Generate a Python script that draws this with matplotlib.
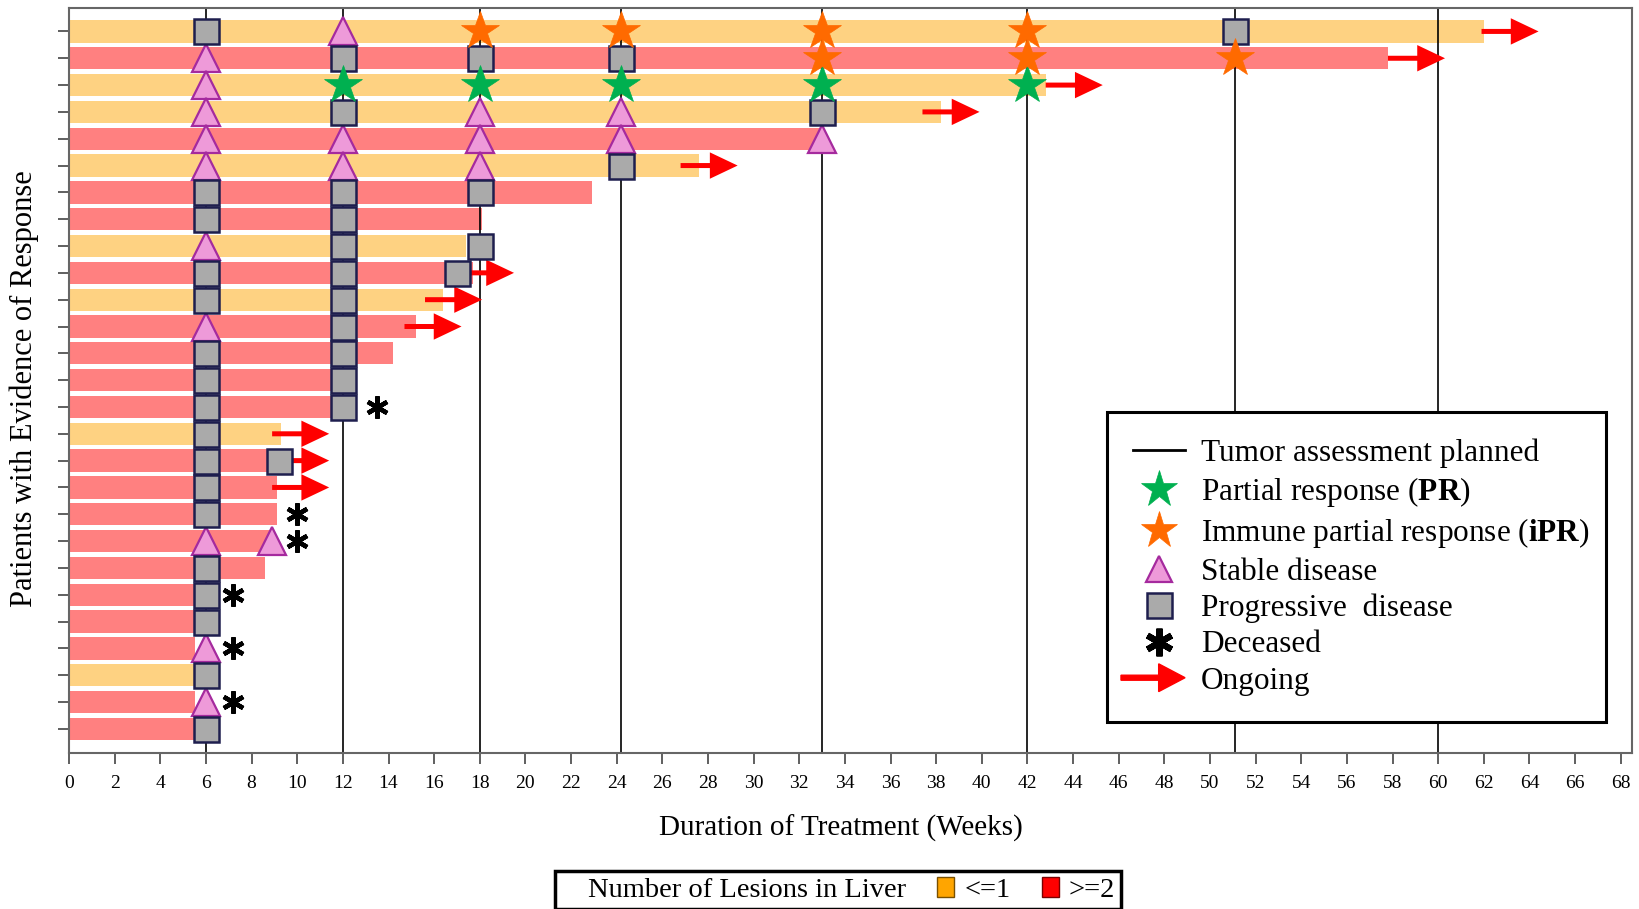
import matplotlib
matplotlib.use("Agg")
import matplotlib.pyplot as plt
from matplotlib import patches as mpatches
from matplotlib.lines import Line2D
from matplotlib.legend_handler import HandlerPatch

plt.rcParams['font.family'] = ['Liberation Serif', 'DejaVu Serif']
plt.rcParams['mathtext.fontset'] = 'custom'
plt.rcParams['mathtext.rm'] = 'Liberation Serif'
plt.rcParams['mathtext.bf'] = 'Liberation Serif:bold'

# one row per patient, listed top to bottom
weeks_on_treatment = [62.0, 57.8, 42.8, 38.2, 33.0, 27.6, 22.9, 18.1, 17.4,
                      17.7, 16.4, 15.2, 14.2, 11.5, 11.5, 9.3, 9.1, 9.1,
                      9.1, 8.9, 8.6, 5.5, 5.5, 5.5, 5.5, 5.5, 5.5]
liver_lesions = ['<=1', '>=2', '<=1', '<=1', '>=2', '<=1', '>=2', '>=2', '<=1',
                 '>=2', '<=1', '>=2', '>=2', '>=2', '>=2', '<=1', '>=2', '>=2',
                 '>=2', '>=2', '>=2', '>=2', '>=2', '>=2', '<=1', '>=2', '>=2']

# planned tumour assessments (weeks)
assessment_weeks = [6, 12, 18, 24.2, 33, 42, 51.1, 60]

# (patient row, week) of each response assessment
partial_response = [(3, 12), (3, 18), (3, 24.2), (3, 33), (3, 42)]
immune_partial_response = [(1, 18), (1, 24.2), (1, 33), (1, 42),
                           (2, 33), (2, 42), (2, 51.1)]
stable_disease = [(1, 12), (2, 6), (3, 6), (4, 6), (4, 18), (4, 24.2),
                  (5, 6), (5, 12), (5, 18), (5, 24.2), (5, 33),
                  (6, 6), (6, 12), (6, 18), (9, 6), (12, 6),
                  (20, 6), (20, 8.9), (24, 6), (26, 6)]
progressive_disease = [(1, 6), (1, 51.1), (2, 12), (2, 18), (2, 24.2),
                       (4, 12), (4, 33), (6, 24.2), (7, 6), (7, 12), (7, 18),
                       (8, 6), (8, 12), (9, 12), (9, 18), (10, 6), (10, 12),
                       (10, 17.0), (11, 6), (11, 12), (12, 12), (13, 6),
                       (13, 12), (14, 6), (14, 12), (15, 6), (15, 12),
                       (16, 6), (17, 6), (17, 9.2), (18, 6), (19, 6),
                       (21, 6), (22, 6), (23, 6), (25, 6), (27, 6)]
deceased = [(15, 13.5), (19, 10.0), (20, 10.0), (22, 7.2), (24, 7.2), (26, 7.2)]
# (patient row, week where the arrow starts)
ongoing = [(1, 61.9), (2, 57.8), (3, 42.8), (4, 37.4), (6, 26.8), (10, 17.0),
           (11, 15.6), (12, 14.7), (16, 8.9), (17, 8.9), (18, 8.9)]
ongoing_arrow_len = 2.5

bar_colors = {'<=1': '#FED282', '>=2': '#FF8080'}
swatch_colors = {'<=1': '#FFA500', '>=2': '#FF0000'}

sd_style = dict(ls='none', marker='^', ms=20, mfc='#EE9AD9', mec='#A52A9E', mew=1.6)
pd_style = dict(ls='none', marker='s', ms=18, mfc='#AAAAAA', mec='#1E1E4E', mew=1.8)
pr_style = dict(ls='none', marker='*', ms=29, mfc='#00B050', mec='#00B050', mew=0.5)
ipr_style = dict(ls='none', marker='*', ms=29, mfc='#FF6A00', mec='#FF6A00', mew=0.5)
dead_style = dict(ls='none', marker=(6, 2, 0), ms=16, mec='black', mew=3.2)


def unzip(marks):
    rows = [r for r, _ in marks]
    weeks = [w for _, w in marks]
    return weeks, rows


def legend_arrow(legend, orig_handle, xdescent, ydescent, width, height, fontsize):
    return mpatches.FancyArrow(-xdescent - 9, height / 2 - ydescent, width + 9, 0,
                               width=3.6, head_width=20, head_length=19,
                               length_includes_head=True)


fig = plt.figure(figsize=(16.4, 9.09), dpi=100)
ax = fig.add_axes([0.0421, 0.1716, 0.9531, 0.8192])

rows = list(range(1, len(weeks_on_treatment) + 1))
ax.barh(rows, weeks_on_treatment, height=0.83,
        color=[bar_colors[k] for k in liver_lesions], zorder=1)

for wk in assessment_weeks:
    ax.axvline(wk, color='black', lw=1.2, zorder=2)

for row, start in ongoing:
    ax.annotate('', xy=(start + ongoing_arrow_len, row), xytext=(start, row),
                arrowprops=dict(arrowstyle='simple,head_length=1.0,head_width=0.95,tail_width=0.18',
                                mutation_scale=20, shrinkA=0, shrinkB=0,
                                color='#FF0000', lw=0),
                zorder=3)

ax.plot(*unzip(stable_disease), zorder=4, **sd_style)
ax.plot(*unzip(progressive_disease), zorder=5, **pd_style)
ax.plot(*unzip(partial_response), zorder=6, **pr_style)
ax.plot(*unzip(immune_partial_response), zorder=6, **ipr_style)
ax.plot(*unzip(deceased), zorder=6, **dead_style)

ax.set_xlim(0, 68.5)
ax.set_ylim(len(rows) + 0.9, 0.14)
ax.set_xticks(range(0, 69, 2))
ax.set_yticks(rows)
ax.set_yticklabels([])
ax.tick_params(axis='x', length=8, width=1.2, color='#444444', pad=8, labelsize=14)
ax.tick_params(axis='y', length=8, width=1.2, color='#444444')
for sp in ax.spines.values():
    sp.set_color('#666666')
    sp.set_linewidth(1.5)

ax.set_xlabel('Duration of Treatment (Weeks)', fontsize=21)
ax.xaxis.set_label_coords(0.494, -0.083)
ax.set_ylabel('Patients with Evidence of Response', fontsize=22)
ax.yaxis.set_label_coords(-0.019, 0.49)

# response legend
handles = [
    Line2D([], [], color='black', lw=2),
    Line2D([], [], **{**pr_style, 'ms': 28}),
    Line2D([], [], **{**ipr_style, 'ms': 28}),
    Line2D([], [], **{**sd_style, 'ms': 19}),
    Line2D([], [], **{**pd_style, 'ms': 18}),
    Line2D([], [], **{**dead_style, 'ms': 20, 'mew': 4.5}),
    mpatches.Patch(color='#FF0000'),
]
labels = [
    'Tumor assessment planned',
    r'Partial response ($\mathbf{PR}$)',
    r'Immune partial response ($\mathbf{iPR}$)',
    'Stable disease',
    'Progressive  disease',
    'Deceased',
    'Ongoing',
]
leg = ax.legend(handles, labels, loc='upper left',
                bbox_to_anchor=(0.664, 0.458, 0.319, 0), mode='expand',
                fontsize=22.5, fancybox=False, framealpha=1, edgecolor='black',
                borderpad=0.85, labelspacing=0.23, handlelength=1.65,
                handletextpad=0.5, borderaxespad=0,
                handler_map={mpatches.Patch: HandlerPatch(patch_func=legend_arrow)})
leg.get_frame().set_linewidth(2.2)
leg.set_zorder(10)

# liver lesion legend below the axes
lesion_handles = [mpatches.Patch(alpha=0),
                  mpatches.Patch(facecolor=swatch_colors['<=1'], edgecolor='#7A5000', lw=1),
                  mpatches.Patch(facecolor=swatch_colors['>=2'], edgecolor='#7A0000', lw=1)]
lesion_labels = ['Number of Lesions in Liver', '<=1', '>=2']
leg2 = fig.legend(lesion_handles, lesion_labels, loc='center',
                  bbox_to_anchor=(0.511, 0.021), ncol=3, fontsize=20.5,
                  fancybox=False, framealpha=1, edgecolor='black',
                  borderpad=0.2, borderaxespad=0, handlelength=0.6,
                  handleheight=0.7, handletextpad=0.35, columnspacing=1.1)
leg2.get_frame().set_linewidth(2.5)

fig.savefig('out.png', dpi=100)
